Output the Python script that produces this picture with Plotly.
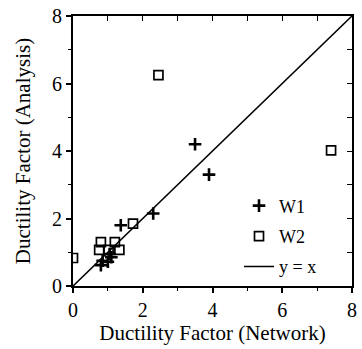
import plotly.graph_objects as go

# W1 (plus markers): Ductility factor (Network) vs (Analysis)
w1_network = [0.80, 0.85, 1.00, 1.05, 1.10, 1.37, 2.30, 3.50, 3.90]
w1_analysis = [0.62, 0.75, 0.72, 0.95, 0.85, 1.80, 2.15, 4.20, 3.30]

# W2 (open square markers)
w2_network = [0.00, 0.80, 0.75, 1.02, 1.20, 1.33, 1.72, 2.45, 7.40]
w2_analysis = [0.83, 1.30, 1.07, 1.07, 1.30, 1.07, 1.85, 6.25, 4.02]

# reference line y = x
line_x = [0, 8]
line_y = [0, 8]

font_family = "Liberation Serif, Times New Roman, serif"

fig = go.Figure()
fig.add_trace(go.Scatter(
    x=w1_network, y=w1_analysis, mode="markers", name="W1",
    marker=dict(symbol="cross-thin", size=9, color="black",
                line=dict(color="black", width=2.6)),
    legendgroup="a"))
fig.add_trace(go.Scatter(
    x=w2_network, y=w2_analysis, mode="markers", name="W2",
    marker=dict(symbol="square-open", size=9, color="black",
                line=dict(color="black", width=1.7)),
    legendgroup="b"))
fig.add_trace(go.Scatter(
    x=line_x, y=line_y, mode="lines", name="y = x",
    line=dict(color="black", width=1.6), legendgroup="c"))

axis_common = dict(range=[0, 8], tickvals=[0, 2, 4, 6, 8],
                   showgrid=False, zeroline=False,
                   showline=True, linecolor="black", linewidth=2,
                   ticks="outside", ticklen=5, tickwidth=1.5, tickcolor="black",
                   minor=dict(dtick=1, ticks="outside", ticklen=3,
                              tickwidth=1.2, tickcolor="black"),
                   tickfont=dict(size=20, color="black", family=font_family))

fig.update_layout(
    width=362, height=349,
    margin=dict(l=73, r=5, t=16, b=63),
    paper_bgcolor="white", plot_bgcolor="white",
    font=dict(family=font_family, color="black"),
    showlegend=True,
    legend=dict(x=0.595, y=0.365, xanchor="left", yanchor="top",
                bgcolor="rgba(0,0,0,0)", traceorder="grouped",
                tracegroupgap=4, font=dict(size=18, family=font_family)),
    xaxis=dict(**axis_common,
               title=dict(text="Ductility Factor (Network)", standoff=0,
                          font=dict(size=21, family=font_family))),
    yaxis=dict(**axis_common,
               title=dict(text="Ductility Factor (Analysis)", standoff=16,
                          font=dict(size=21, family=font_family))),
    xaxis2=dict(range=[0, 8], overlaying="x", side="top", showgrid=False,
                zeroline=False, showline=True, linecolor="black", linewidth=2,
                ticks="inside", ticklen=5, tickwidth=1.2, tickcolor="black",
                tickmode="array", tickvals=[1, 2, 3, 4, 5, 6, 7],
                showticklabels=False, anchor="y2"),
    yaxis2=dict(range=[0, 8], overlaying="y", side="right", showgrid=False,
                zeroline=False, showline=True, linecolor="black", linewidth=2,
                ticks="inside", ticklen=5, tickwidth=1.2, tickcolor="black",
                tickmode="array", tickvals=[1, 2, 3, 4, 5, 6, 7],
                showticklabels=False, anchor="x2"),
)

# transparent trace to activate the secondary (top/right) axes
fig.add_trace(go.Scatter(x=line_x, y=line_y, xaxis="x2", yaxis="y2",
                         mode="lines", line=dict(color="rgba(0,0,0,0)", width=1),
                         showlegend=False, hoverinfo="skip"))

fig.write_html("out.html")
